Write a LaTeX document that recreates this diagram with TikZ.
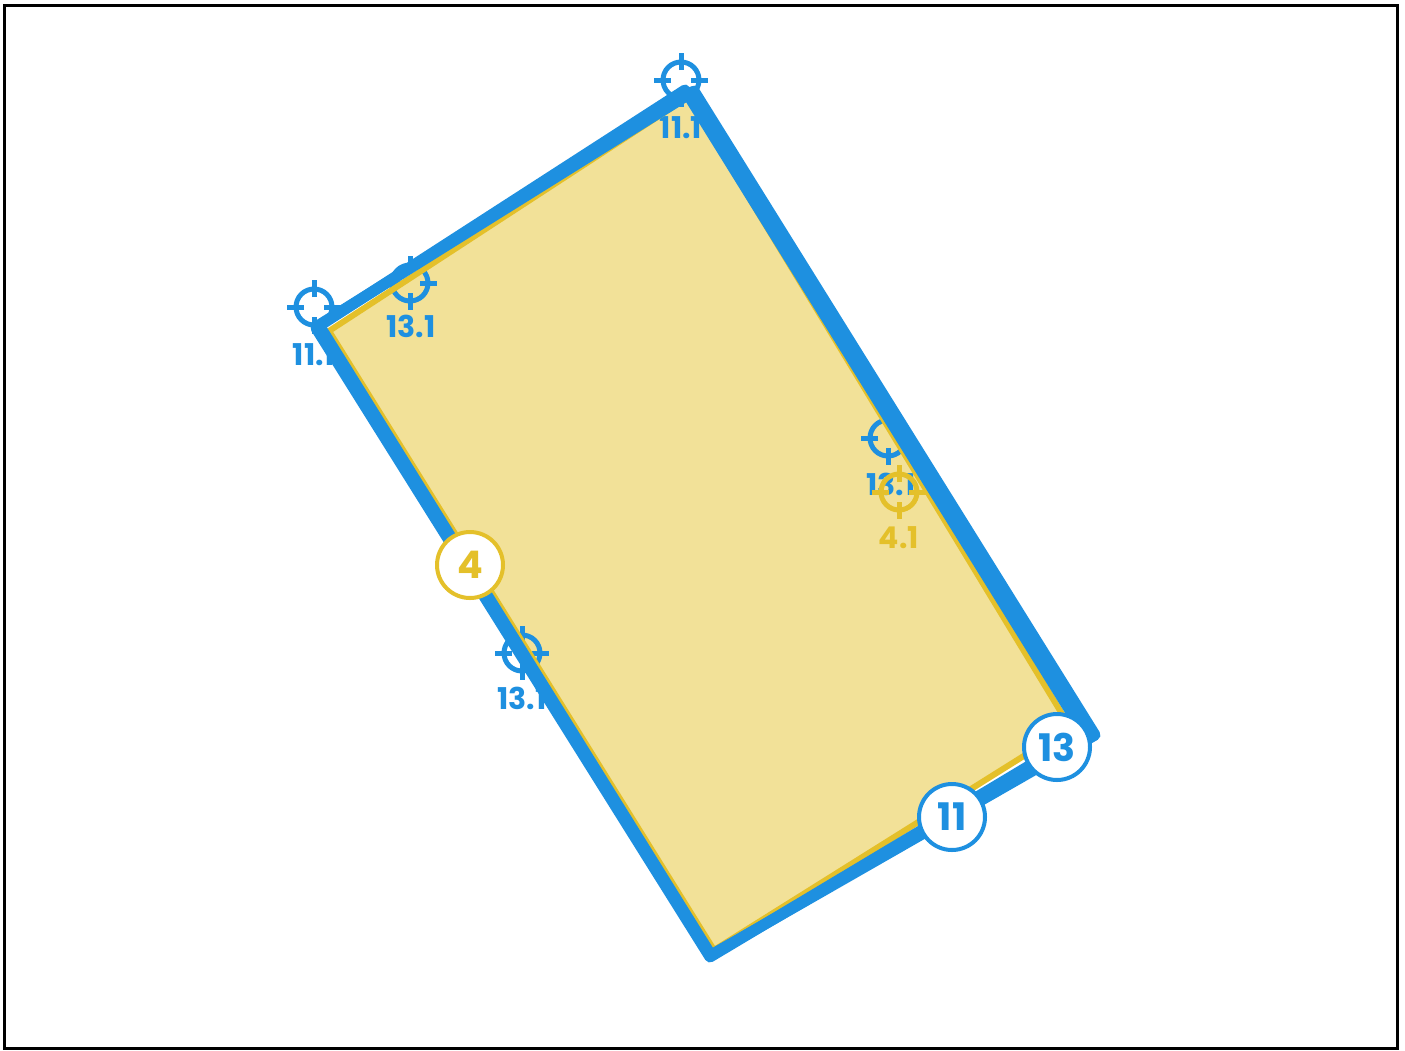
\documentclass[tikz,border=0pt]{standalone}
\usepackage{fontspec}
\setmainfont{Poppins}
\definecolor{mblue}{RGB}{30,144,224}
\definecolor{myel}{RGB}{228,192,42}
\definecolor{mfill}{RGB}{242,225,152}
\tikzset{
  target/.pic={
    \draw[line width=5pt] (0,0) circle (18pt);
    \foreach \a in {0,90,180,270} \draw[line width=5pt] (\a:10pt) -- (\a:27pt);
  },
  ptlabel/.style={font=\bfseries\fontsize{30}{30}\selectfont, inner sep=0pt},
  badge/.style={circle, fill=white, draw, line width=4pt, minimum size=66pt, inner sep=0pt,
    font=\bfseries\fontsize{38}{38}\selectfont},
  edge11/.style={draw=mblue, line width=11pt, line join=round, line cap=round},
}
\begin{document}
\begin{tikzpicture}[x=1pt,y=-1pt]
\useasboundingbox (0,0) rectangle (1405,1050);
\draw[line width=3pt] (4,5) rectangle (1397,1048);
% polygon 4 (fill)
\coordinate (y1) at (329,331);
\coordinate (y2) at (688,97);
\coordinate (y3) at (1070,727);
\coordinate (y4) at (714,950);
\fill[mfill] (y1) -- (y2) -- (y3) -- (y4) -- cycle;
% targets and labels
\begin{scope}[mblue]
\pic at (314,307) {target};
\node[ptlabel, text=mblue] (l111a) at (314,355) {11.1};
\pic at (681,80) {target};
\node[ptlabel, text=mblue] (l111b) at (681,128) {11.1};
\pic at (410,283) {target};
\node[ptlabel, text=mblue] (l131a) at (411,326) {13.1};
\pic at (888,438) {target};
\node[ptlabel, text=mblue] (l131b) at (891,484) {13.1};
\pic at (522,653) {target};
\node[ptlabel, text=mblue] (l131c) at (522,698) {13.1};
\end{scope}
\begin{scope}[myel]
\pic at (899,492) {target};
\node[ptlabel, text=myel] (l41) at (899,538) {4.1};
\end{scope}
% yellow border
\draw[myel, line width=6pt, line join=round] (y1) -- (y2) -- (y3) -- (y4) -- cycle;
% blue polygons 13 and 11
\coordinate (a1) at (319,325);
\coordinate (a2) at (694,91);
\coordinate (a3) at (1095,735);
\coordinate (a4) at (711,955);
\draw[edge11] (a1) -- (a2) -- (a3) -- (a4) -- cycle;
\coordinate (b1) at (316,328);
\coordinate (b2) at (685,90);
\coordinate (b3) at (1084,733);
\coordinate (b4) at (710,957);
\draw[edge11] (b1) -- (b2) -- (b3) -- (b4) -- cycle;
% badges
\node[badge, draw=myel, text=myel] (n4) at (470,565) {4};
\node[badge, draw=mblue, text=mblue] (n11) at (952,817) {11};
\node[badge, draw=mblue, text=mblue] (n13) at (1057,747) {13};
\end{tikzpicture}
\end{document}
